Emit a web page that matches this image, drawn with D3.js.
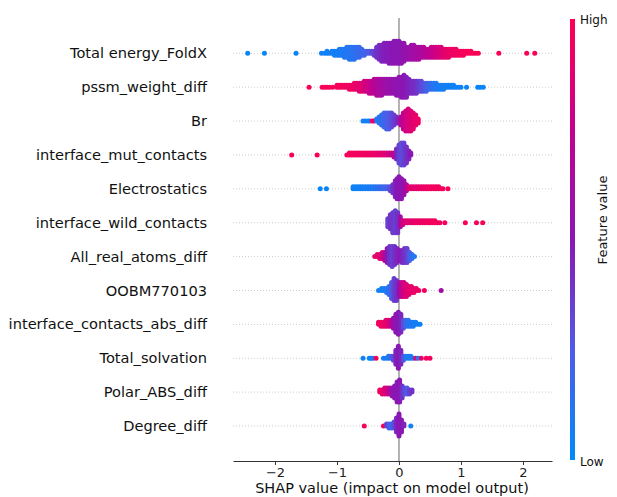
<!DOCTYPE html>
<html>
<head>
<meta charset="utf-8">
<script src="https://cdn.jsdelivr.net/npm/d3@7"></script>
<style>
  body { margin: 0; background: #fff; }
  svg text { font-family: "DejaVu Sans", sans-serif; }
</style>
</head>
<body>
<svg id="chart" width="617" height="497"></svg>
<script>
// feature names, top to bottom
const features = [
  "Total energy_FoldX", "pssm_weight_diff", "Br", "interface_mut_contacts",
  "Electrostatics", "interface_wild_contacts", "All_real_atoms_diff", "OOBM770103",
  "interface_contacts_abs_diff", "Total_solvation", "Polar_ABS_diff", "Degree_diff"
];
const xTicks = [-2, -1, 0, 1, 2];

// each entry: [shap value, dots stacked at that value, feature value 0..1]
const totalEnergy = [
  [-2.44,1,0.02],[-2.17,1,0.02],[-1.66,1,0.03],
  [-1.25,1,0.05],[-1.2,1,0.05],[-1.16,2,0.05],[-1.12,1,0.05],[-1.08,2,0.06],[-1.04,3,0.06],
  [-1.0,3,0.07],[-0.96,4,0.08],[-0.92,4,0.08],[-0.88,5,0.1],[-0.84,6,0.1],[-0.8,7,0.12],
  [-0.76,7,0.12],[-0.72,7,0.14],[-0.68,6,0.15],[-0.64,6,0.17],[-0.6,4,0.18],[-0.56,3,0.2],
  [-0.52,2,0.22],[-0.48,2,0.25],[-0.44,2,0.3],[-0.4,3,0.35],[-0.36,6,0.4],[-0.32,8,0.42],
  [-0.28,9,0.45],[-0.24,10,0.47],[-0.2,10,0.48],[-0.16,11,0.48],[-0.12,11,0.5],[-0.08,12,0.5],
  [-0.04,12,0.5],[0,12,0.5],[0.04,11,0.52],[0.08,10,0.53],[0.12,7,0.55],[0.16,7,0.57],
  [0.2,8,0.58],[0.24,8,0.6],[0.28,7,0.62],[0.32,7,0.63],[0.36,6,0.65],[0.4,6,0.67],
  [0.44,5,0.7],[0.48,5,0.72],[0.52,6,0.75],[0.56,6,0.78],[0.6,6,0.8],[0.64,6,0.82],
  [0.68,6,0.85],[0.72,5,0.87],[0.76,5,0.9],[0.8,5,0.9],[0.84,4,0.92],[0.88,4,0.93],
  [0.92,4,0.94],[0.96,3,0.95],[1.0,3,0.95],[1.04,3,0.96],[1.08,2,0.97],[1.12,2,0.97],
  [1.16,2,0.98],[1.2,1,0.98],[1.24,1,0.98],[1.28,1,0.98],[1.61,1,0.99],[2.06,1,0.99],[2.19,1,0.99]
];
const pssmWeightDiff = [
  [-1.45,1,0.98],[-1.24,1,0.97],[-1.2,1,0.97],[-1.16,1,0.97],[-1.12,1,0.97],[-1.07,1,0.96],
  [-1.0,2,0.96],[-0.96,2,0.96],[-0.92,2,0.95],[-0.88,2,0.95],[-0.84,2,0.94],[-0.8,3,0.94],
  [-0.76,3,0.93],[-0.72,4,0.92],[-0.68,4,0.9],[-0.64,5,0.88],[-0.6,5,0.86],[-0.56,6,0.84],
  [-0.52,6,0.8],[-0.48,7,0.77],[-0.44,7,0.74],[-0.4,8,0.7],[-0.36,9,0.67],[-0.32,9,0.65],
  [-0.28,9,0.62],[-0.24,8,0.6],[-0.2,8,0.58],[-0.16,8,0.56],[-0.12,8,0.55],[-0.08,8,0.54],
  [-0.04,9,0.53],[0,10,0.52],[0.04,11,0.5],[0.08,12,0.5],[0.12,11,0.48],[0.16,8,0.46],
  [0.2,7,0.44],[0.24,7,0.42],[0.28,7,0.4],[0.32,6,0.36],[0.36,6,0.32],[0.4,5,0.28],
  [0.44,5,0.22],[0.48,4,0.18],[0.52,4,0.15],[0.56,4,0.12],[0.6,4,0.1],[0.64,3,0.08],
  [0.68,3,0.08],[0.72,3,0.07],[0.76,2,0.06],[0.8,2,0.06],[0.84,2,0.05],[0.88,2,0.05],
  [0.92,1,0.05],[0.96,1,0.05],[1.0,1,0.04],[1.09,1,0.04],[1.27,1,0.03],[1.31,1,0.03],[1.36,1,0.03]
];
const br = [
  [-0.58,1,0.05],[-0.54,1,0.05],[-0.5,1,0.05],[-0.47,1,0.1],[-0.43,1,0.95],[-0.4,1,0.9],
  [-0.36,2,0.1],[-0.32,4,0.12],[-0.28,6,0.15],[-0.24,8,0.2],[-0.2,9,0.22],[-0.16,9,0.25],
  [-0.12,8,0.3],[-0.08,6,0.35],[-0.04,4,0.4],[-0.01,3,0.45],[0.03,5,0.65],[0.07,9,0.75],
  [0.11,11,0.8],[0.15,12,0.82],[0.19,11,0.85],[0.23,9,0.88],[0.27,6,0.9],[0.31,3,0.92]
];
const interfaceMutContacts = [
  [-1.73,1,0.97],[-1.32,1,0.97],[-0.84,1,0.96],[-0.8,2,0.96],[-0.76,2,0.96],[-0.72,2,0.95],
  [-0.68,2,0.95],[-0.64,2,0.95],[-0.6,2,0.94],[-0.56,2,0.94],[-0.52,2,0.93],[-0.48,2,0.93],
  [-0.44,2,0.92],[-0.4,2,0.92],[-0.36,2,0.9],[-0.32,2,0.9],[-0.28,2,0.88],[-0.24,2,0.86],
  [-0.2,2,0.84],[-0.16,2,0.8],[-0.12,2,0.77],[-0.08,3,0.7],[-0.04,6,0.45],[0,10,0.35],
  [0.04,12,0.3],[0.08,12,0.35],[0.12,9,0.4],[0.16,5,0.45],[0.19,2,0.5]
];
const electrostatics = [
  [-1.27,1,0.03],[-1.17,1,0.03],[-0.74,2,0.05],[-0.7,2,0.05],[-0.66,2,0.05],[-0.62,2,0.06],
  [-0.58,2,0.06],[-0.54,2,0.07],[-0.5,2,0.08],[-0.46,2,0.08],[-0.42,2,0.1],[-0.38,2,0.12],
  [-0.34,2,0.14],[-0.3,2,0.16],[-0.26,2,0.18],[-0.22,2,0.2],[-0.18,2,0.24],[-0.14,3,0.3],
  [-0.1,5,0.4],[-0.06,9,0.45],[-0.03,11,0.5],[0,12,0.5],[0.04,11,0.52],[0.08,8,0.55],
  [0.12,4,0.65],[0.16,2,0.85],[0.2,2,0.87],[0.24,2,0.88],[0.28,2,0.9],[0.32,2,0.9],
  [0.36,2,0.92],[0.4,2,0.92],[0.44,2,0.93],[0.48,2,0.94],[0.52,2,0.94],[0.56,2,0.95],
  [0.6,2,0.95],[0.64,2,0.95],[0.68,1,0.96],[0.71,1,0.96],[0.79,1,0.97]
];
const interfaceWildContacts = [
  [-0.18,5,0.35],[-0.14,8,0.4],[-0.1,11,0.38],[-0.06,12,0.35],[-0.02,11,0.4],[0.02,6,0.6],
  [0.06,3,0.8],[0.1,2,0.85],[0.14,2,0.86],[0.18,2,0.88],[0.22,2,0.9],[0.26,2,0.9],
  [0.3,2,0.91],[0.34,2,0.92],[0.38,2,0.92],[0.42,2,0.93],[0.46,2,0.94],[0.5,2,0.94],
  [0.54,2,0.95],[0.58,2,0.95],[0.62,1,0.95],[0.66,1,0.95],[0.74,1,0.97],[1.07,1,0.97],
  [1.25,1,0.97],[1.35,1,0.97]
];
const allRealAtomsDiff = [
  [-0.39,1,0.9],[-0.35,2,0.9],[-0.31,3,0.85],[-0.27,4,0.8],[-0.23,5,0.7],[-0.19,8,0.5],
  [-0.15,10,0.4],[-0.11,11,0.35],[-0.07,10,0.4],[-0.03,8,0.45],[0.01,6,0.5],[0.05,7,0.45],
  [0.09,8,0.4],[0.13,8,0.35],[0.17,5,0.25],[0.21,3,0.15],[0.25,1,0.1]
];
const oobm770103 = [
  [-0.33,1,0.05],[-0.28,2,0.05],[-0.24,2,0.08],[-0.2,3,0.1],[-0.16,5,0.15],[-0.12,9,0.25],
  [-0.08,12,0.35],[-0.04,11,0.4],[0,8,0.5],[0.04,8,0.75],[0.08,8,0.8],[0.12,7,0.85],
  [0.16,5,0.88],[0.2,4,0.9],[0.24,3,0.9],[0.28,2,0.92],[0.32,1,0.92],[0.41,1,0.95],[0.68,1,0.6]
];
const interfaceContactsAbsDiff = [
  [-0.33,2,0.95],[-0.29,3,0.93],[-0.25,3,0.92],[-0.21,4,0.9],[-0.17,4,0.85],[-0.13,4,0.75],
  [-0.09,6,0.6],[-0.05,10,0.5],[-0.01,12,0.5],[0.03,10,0.45],[0.07,5,0.3],[0.11,4,0.2],
  [0.15,4,0.12],[0.19,3,0.1],[0.23,3,0.08],[0.27,2,0.07],[0.31,1,0.06],[0.34,1,0.05]
];
const totalSolvation = [
  [-0.58,1,0.05],[-0.48,1,0.05],[-0.45,1,0.05],[-0.42,1,0.07],[-0.37,1,0.95],[-0.25,1,0.05],
  [-0.21,1,0.08],[-0.17,2,0.1],[-0.13,2,0.2],[-0.09,3,0.3],[-0.05,8,0.45],[-0.01,12,0.5],
  [0.03,8,0.45],[0.07,3,0.3],[0.11,2,0.1],[0.15,2,0.08],[0.19,2,0.08],[0.23,1,0.1],
  [0.27,1,0.9],[0.31,1,0.1],[0.36,1,0.92],[0.44,1,0.95],[0.5,1,0.95]
];
const polarAbsDiff = [
  [-0.31,2,0.95],[-0.27,3,0.9],[-0.23,4,0.85],[-0.19,4,0.8],[-0.15,4,0.7],[-0.11,5,0.55],
  [-0.07,7,0.5],[-0.03,11,0.5],[0.01,12,0.5],[0.05,7,0.4],[0.09,4,0.3],[0.13,4,0.25],
  [0.17,3,0.35],[0.21,2,0.4]
];
const degreeDiff = [
  [-0.56,1,0.97],[-0.25,1,0.95],[-0.2,2,0.35],[-0.16,3,0.25],[-0.12,3,0.2],[-0.08,4,0.3],
  [-0.04,8,0.45],[0,12,0.5],[0.04,7,0.5],[0.08,2,0.45],[0.19,1,0.05]
];

const rows = [
  totalEnergy, pssmWeightDiff, br, interfaceMutContacts, electrostatics, interfaceWildContacts,
  allRealAtomsDiff, oobm770103, interfaceContactsAbsDiff, totalSolvation, polarAbsDiff, degreeDiff
];

const svg = d3.select("#chart");

const x = d3.scaleLinear().domain([-2.677, 2.468]).range([233, 552]);
const y = d3.scalePoint().domain(features).range([53.3, 426]);
const axisY = 461, topY = 18;

const color = d3.scaleLinear()
  .domain([0, 0.25, 0.5, 0.75, 1])
  .range(["#008bfa", "#4f5be6", "#8a17b4", "#c4008e", "#ff0052"]);

// dotted row guides
svg.append("g").selectAll("line")
  .data(features)
  .join("line")
  .attr("x1", 233).attr("x2", 552)
  .attr("y1", d => y(d)).attr("y2", d => y(d))
  .attr("stroke", "#cccccc")
  .attr("stroke-width", 1)
  .attr("stroke-dasharray", "1,2");

// zero line
svg.append("line")
  .attr("x1", x(0)).attr("x2", x(0))
  .attr("y1", topY).attr("y2", axisY)
  .attr("stroke", "#999999")
  .attr("stroke-width", 1.5);

// beeswarm: stack dots alternately above / below the row line
const step = 2;
const dots = [];
rows.forEach((row, i) => {
  row.forEach(([v, n, fv]) => {
    for (let k = 0; k < n; k++) {
      const off = Math.ceil(k / 2) * (k % 2 ? -1 : 1);
      dots.push({ v, fv, cy: y(features[i]) + off * step });
    }
  });
});

svg.append("g").selectAll("circle")
  .data(dots)
  .join("circle")
  .attr("cx", d => x(d.v))
  .attr("cy", d => d.cy)
  .attr("r", 2.5)
  .attr("fill", d => color(d.fv));

// feature labels
svg.append("g").selectAll("text")
  .data(features)
  .join("text")
  .attr("x", 207)
  .attr("y", d => y(d))
  .attr("dy", "0.35em")
  .attr("text-anchor", "end")
  .attr("font-size", 14.6)
  .attr("fill", "#111")
  .text(d => d);

// x axis
const xAxis = svg.append("g")
  .attr("transform", `translate(0,${axisY})`)
  .call(d3.axisBottom(x).tickValues(xTicks).tickSize(4).tickSizeOuter(0)
    .tickFormat(d => d < 0 ? "\u2212" + Math.abs(d) : d));
xAxis.select(".domain").attr("stroke", "#333");
xAxis.selectAll(".tick line").attr("stroke", "#333");
xAxis.selectAll(".tick text")
  .attr("font-size", 13)
  .attr("font-family", "DejaVu Sans, sans-serif")
  .attr("fill", "#222");

svg.append("text")
  .attr("x", x(0) - 7)
  .attr("y", 493)
  .attr("text-anchor", "middle")
  .attr("font-size", 14.5)
  .attr("fill", "#111")
  .text("SHAP value (impact on model output)");

// colour bar
const grad = svg.append("defs").append("linearGradient")
  .attr("id", "cbar")
  .attr("x1", 0).attr("y1", 1).attr("x2", 0).attr("y2", 0);
grad.selectAll("stop")
  .data(d3.range(0, 1.001, 0.05))
  .join("stop")
  .attr("offset", d => d)
  .attr("stop-color", d => color(d));

svg.append("rect")
  .attr("x", 570).attr("y", 19)
  .attr("width", 5).attr("height", 441)
  .attr("fill", "url(#cbar)");

svg.append("text")
  .attr("x", 580).attr("y", 24)
  .attr("font-size", 12).attr("fill", "#111")
  .text("High");
svg.append("text")
  .attr("x", 580).attr("y", 466)
  .attr("font-size", 12).attr("fill", "#111")
  .text("Low");
svg.append("text")
  .attr("transform", "translate(607,220) rotate(-90)")
  .attr("text-anchor", "middle")
  .attr("font-size", 13).attr("fill", "#111")
  .text("Feature value");
</script>
</body>
</html>
